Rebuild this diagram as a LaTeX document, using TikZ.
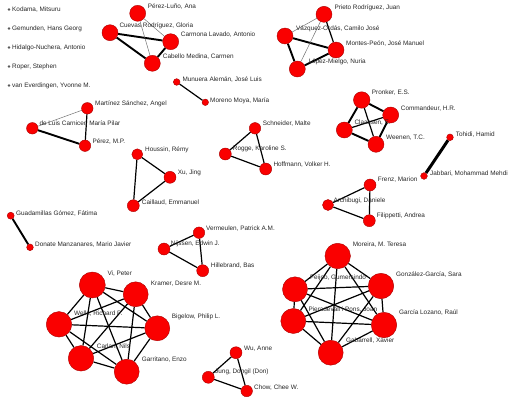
\documentclass[tikz,border=0pt]{standalone}
\usepackage{fontspec}
\setmainfont{Liberation Sans}
\usetikzlibrary{backgrounds}
\definecolor{nred}{RGB}{250,0,0}
\definecolor{nedge}{RGB}{170,0,0}
\newcommand{\labfont}{\fontsize{6.4pt}{7pt}\selectfont}
\tikzset{
  v/.style={circle, fill=nred, draw=nedge, line width=0.4pt, inner sep=0pt, minimum size=#1},
  iso/.style={circle, fill=black!65, inner sep=0pt, minimum size=2.6pt},
  lab/.style={anchor=west, font=\labfont, text=black!85, inner sep=0pt},
  ethick/.style={line width=1.9pt, black},
  emed/.style={line width=1.2pt, black},
  ethin/.style={line width=0.5pt, black!55},
  ehuge/.style={line width=3pt, black}
}
\begin{document}
\begin{tikzpicture}[x=1pt,y=-1pt]
\useasboundingbox (0,0) rectangle (528,407);

% isolated
\node[iso] (kod) at (9,9.5) {};      \node[lab] (kodL) at (12,9.5) {Kodama, Mitsuru};
\node[iso] (gem) at (9,28.5) {};     \node[lab] (gemL) at (12,28.5) {Gemunden, Hans Georg};
\node[iso] (hid) at (9,47.5) {};     \node[lab] (hidL) at (12,47.5) {Hidalgo-Nuchera, Antonio};
\node[iso] (rop) at (9,66.5) {};     \node[lab] (ropL) at (12,66.5) {Roper, Stephen};
\node[iso] (van) at (9,85.5) {};     \node[lab] (vanL) at (12,85.5) {van Everdingen, Yvonne M.};

% group 1
\node[v=16pt] (pl) at (137.7,13.3) {};  \node[lab] (plL) at (147.7,6.7) {Pérez-Luño, Ana};
\node[v=16pt] (cr) at (110,32.7) {};    \node[lab] (crL) at (119.3,25.7) {Cuevas Rodríguez, Gloria};
\node[v=16pt] (cl) at (170.7,41.7) {};  \node[lab] (clL) at (180.7,34.3) {Carmona Lavado, Antonio};
\node[v=16pt] (cm) at (152.3,63.3) {};  \node[lab] (cmL) at (162.7,56.7) {Cabello Medina, Carmen};

% Munuera
\node[v=6.7pt] (mu) at (176.7,82) {};   \node[lab] (muL) at (182.3,80) {Munuera Alemán, José Luis};
\node[v=6.5pt] (mm) at (205.3,102.3) {}; \node[lab] (mmL) at (210,100.7) {Moreno Moya, María};

% Prieto group
\node[v=16pt] (pr) at (324,14.3) {};    \node[lab] (prL) at (334.3,7.7) {Prieto Rodríguez, Juan};
\node[v=16pt] (vo) at (285,36) {};      \node[lab] (voL) at (296,29.3) {Vázquez-Ordás, Camilo José};
\node[v=16pt] (mp) at (336,50) {};      \node[lab] (mpL) at (346,43.3) {Montes-Peón, José Manuel};
\node[v=16pt] (lm) at (297.3,69) {};    \node[lab] (lmL) at (308.3,62) {López-Mielgo, Nuria};

% Martinez group
\node[v=11.5pt] (ms) at (87.3,108.3) {}; \node[lab] (msL) at (95,104) {Martínez Sánchez, Angel};
\node[v=11.5pt] (dl) at (32.3,128.3) {}; \node[lab] (dlL) at (39.3,123.3) {de Luis Carnicer, María Pilar};
\node[v=11.5pt] (pm) at (85,145.7) {};   \node[lab] (pmL) at (92.3,141.7) {Pérez, M.P.};

% Houssin group
\node[v=11pt] (ho) at (137.3,154.3) {};  \node[lab] (hoL) at (145,150.3) {Houssin, Rémy};
\node[v=12pt] (xu) at (170,177.3) {};    \node[lab] (xuL) at (177.7,173.3) {Xu, Jing};
\node[v=12pt] (ca) at (133.3,205.7) {};  \node[lab] (caL) at (141.7,202.3) {Caillaud, Emmanuel};

% Schneider group
\node[v=11.5pt] (sc) at (255,128.3) {};  \node[lab] (scL) at (262.7,123.3) {Schneider, Malte};
\node[v=12pt] (ro) at (225.3,154) {};    \node[lab] (roL) at (232.7,149.3) {Rogge, Karoline S.};
\node[v=12pt] (hf) at (265.7,169) {};    \node[lab] (hfL) at (273.3,164.3) {Hoffmann, Volker H.};

% Pronker group
\node[v=16.5pt] (pk) at (361.7,100) {};  \node[lab] (pkL) at (371.7,92.7) {Pronker, E.S.};
\node[v=16pt] (co) at (390.7,115) {};    \node[lab] (coL) at (400.7,108.3) {Commandeur, H.R.};
\node[v=16pt] (cs) at (344.3,130) {};    \node[lab] (csL) at (354.3,122.7) {Claassen, E.};
\node[v=16pt] (we) at (376,144.3) {};    \node[lab] (weL) at (386,137.3) {Weenen, T.C.};

% Tohidi
\node[v=6.7pt] (to) at (450,137.3) {};   \node[lab] (toL) at (455.7,135) {Tohidi, Hamid};
\node[v=6.7pt] (ja) at (424,176) {};     \node[lab] (jaL) at (430,174) {Jabbari, Mohammad Mehdi};

% Frenz group
\node[v=12pt] (fr) at (370,185) {};      \node[lab] (frL) at (377.7,180) {Frenz, Marion};
\node[v=11pt] (ar) at (328,205) {};      \node[lab] (arL) at (333.3,200.7) {Archibugi, Daniele};
\node[v=12pt] (fi) at (369.3,220.7) {};  \node[lab] (fiL) at (376.7,216) {Filippetti, Andrea};

% Guadamillas
\node[v=7pt] (gu) at (10.7,215.7) {};    \node[lab] (guL) at (16,214) {Guadamillas Gómez, Fátima};
\node[v=6.7pt] (dm) at (30,247.3) {};    \node[lab] (dmL) at (35,244.7) {Donate Manzanares, Mario Javier};

% Nijssen group
\node[v=11.5pt] (ve) at (199,232.7) {};  \node[lab] (veL) at (206,228.3) {Vermeulen, Patrick A.M.};
\node[v=12pt] (ni) at (164,249) {};      \node[lab] (niL) at (170.7,244) {Nijssen, Edwin J.};
\node[v=12pt] (hb) at (202.7,270.7) {};  \node[lab] (hbL) at (210.7,266) {Hillebrand, Bas};

% Vi group
\node[v=26pt] (vi) at (92.3,285) {};     \node[lab] (viL) at (107.3,273.3) {Vi, Peter};
\node[v=25pt] (kr) at (135.7,294.3) {};  \node[lab] (krL) at (150.7,283.3) {Kramer, Desre M.};
\node[v=25.5pt] (wl) at (59,324.3) {};   \node[lab] (wlL) at (74,313.3) {Wells, Richard P.};
\node[v=25pt] (bg) at (157.3,328.3) {};  \node[lab] (bgL) at (171.7,316.7) {Bigelow, Philip L.};
\node[v=25.5pt] (cn) at (81,358.3) {};   \node[lab] (cnL) at (96.7,346.7) {Carlan, Nils};
\node[v=25pt] (gt) at (126.7,371.7) {};  \node[lab] (gtL) at (141.7,360) {Garritano, Enzo};

% Wu group
\node[v=12pt] (wu) at (236,352.7) {};    \node[lab] (wuL) at (244,348.3) {Wu, Anne};
\node[v=12pt] (jn) at (208.3,377.3) {};  \node[lab] (jnL) at (215,371.7) {Jung, Dongil (Don)};
\node[v=11.5pt] (ch) at (246.7,391) {};  \node[lab] (chL) at (254,387.3) {Chow, Chee W.};

% Moreira group
\node[v=25.5pt] (mo) at (337.7,256) {};  \node[lab] (moL) at (352.7,244.3) {Moreira, M. Teresa};
\node[v=25pt] (fe) at (295,289.3) {};    \node[lab] (feL) at (310,278.3) {Feijoo, Gumersindo};
\node[v=25.5pt] (gg) at (381,286) {};    \node[lab] (ggL) at (396,274.3) {González-García, Sara};
\node[v=25pt] (pi) at (293.3,321) {};    \node[lab] (piL) at (308.3,309.3) {Pieradevall i Pons, Joan};
\node[v=25.5pt] (gl) at (384,325) {};    \node[lab] (glL) at (399,312.7) {García Lozano, Raúl};
\node[v=25pt] (ga) at (330.7,352.7) {};  \node[lab] (gaL) at (346,341) {Gabarrell, Xavier};

\begin{scope}[on background layer]
  % group 1
  \draw[ethick] (cr) -- (cl);
  \draw[ethick] (cr) -- (cm);
  \draw[ethick] (cl) -- (cm);
  \draw[ethin] (pl) -- (cl);
  \draw[ethin] (pl) -- (cm);
  % Munuera
  \draw[emed] (mu) -- (mm);
  % Prieto
  \draw[ethick] (vo) -- (mp);
  \draw[ethick] (vo) -- (lm);
  \draw[ethick] (lm) -- (mp);
  \draw[emed] (pr) -- (mp);
  \draw[ethin] (pr) -- (vo);
  \draw[ethin] (pr) -- (lm);
  % Martinez
  \draw[ethin] (dl) -- (ms);
  \draw[emed] (ms) -- (pm);
  \draw[ethick] (dl) -- (pm);
  % Houssin
  \draw[emed] (ho) -- (xu);
  \draw[emed] (ho) -- (ca);
  \draw[emed] (xu) -- (ca);
  % Schneider
  \draw[emed] (sc) -- (ro);
  \draw[emed] (ro) -- (hf);
  \draw[emed] (sc) -- (hf);
  % Pronker
  \draw[ethick] (pk) -- (co);
  \draw[ethick] (pk) -- (cs);
  \draw[ethick] (cs) -- (we);
  \draw[ethick] (co) -- (we);
  \draw[emed] (pk) -- (we);
  \draw[emed] (cs) -- (co);
  % Tohidi
  \draw[ehuge] (to) -- (ja);
  % Frenz
  \draw[emed] (fr) -- (ar);
  \draw[emed] (ar) -- (fi);
  \draw[emed] (fr) -- (fi);
  % Guadamillas
  \draw[ethick] (gu) -- (dm);
  % Nijssen
  \draw[emed] (ve) -- (ni);
  \draw[emed] (ni) -- (hb);
  \draw[emed] (ve) -- (hb);
  % Vi group
  \foreach \a/\b in {vi/kr,vi/wl,vi/bg,vi/cn,vi/gt,kr/wl,kr/bg,kr/cn,kr/gt,wl/bg,wl/cn,wl/gt,bg/cn,bg/gt,cn/gt}
    \draw[emed] (\a) -- (\b);
  % Wu group
  \draw[emed] (wu) -- (jn);
  \draw[emed] (wu) -- (ch);
  \draw[emed] (jn) -- (ch);
  % Moreira group
  \foreach \a/\b in {mo/fe,mo/gg,mo/pi,mo/gl,mo/ga,fe/gg,fe/pi,fe/gl,fe/ga,gg/pi,gg/gl,gg/ga,pi/gl,pi/ga,gl/ga}
    \draw[emed] (\a) -- (\b);
\end{scope}
\end{tikzpicture}
\end{document}
